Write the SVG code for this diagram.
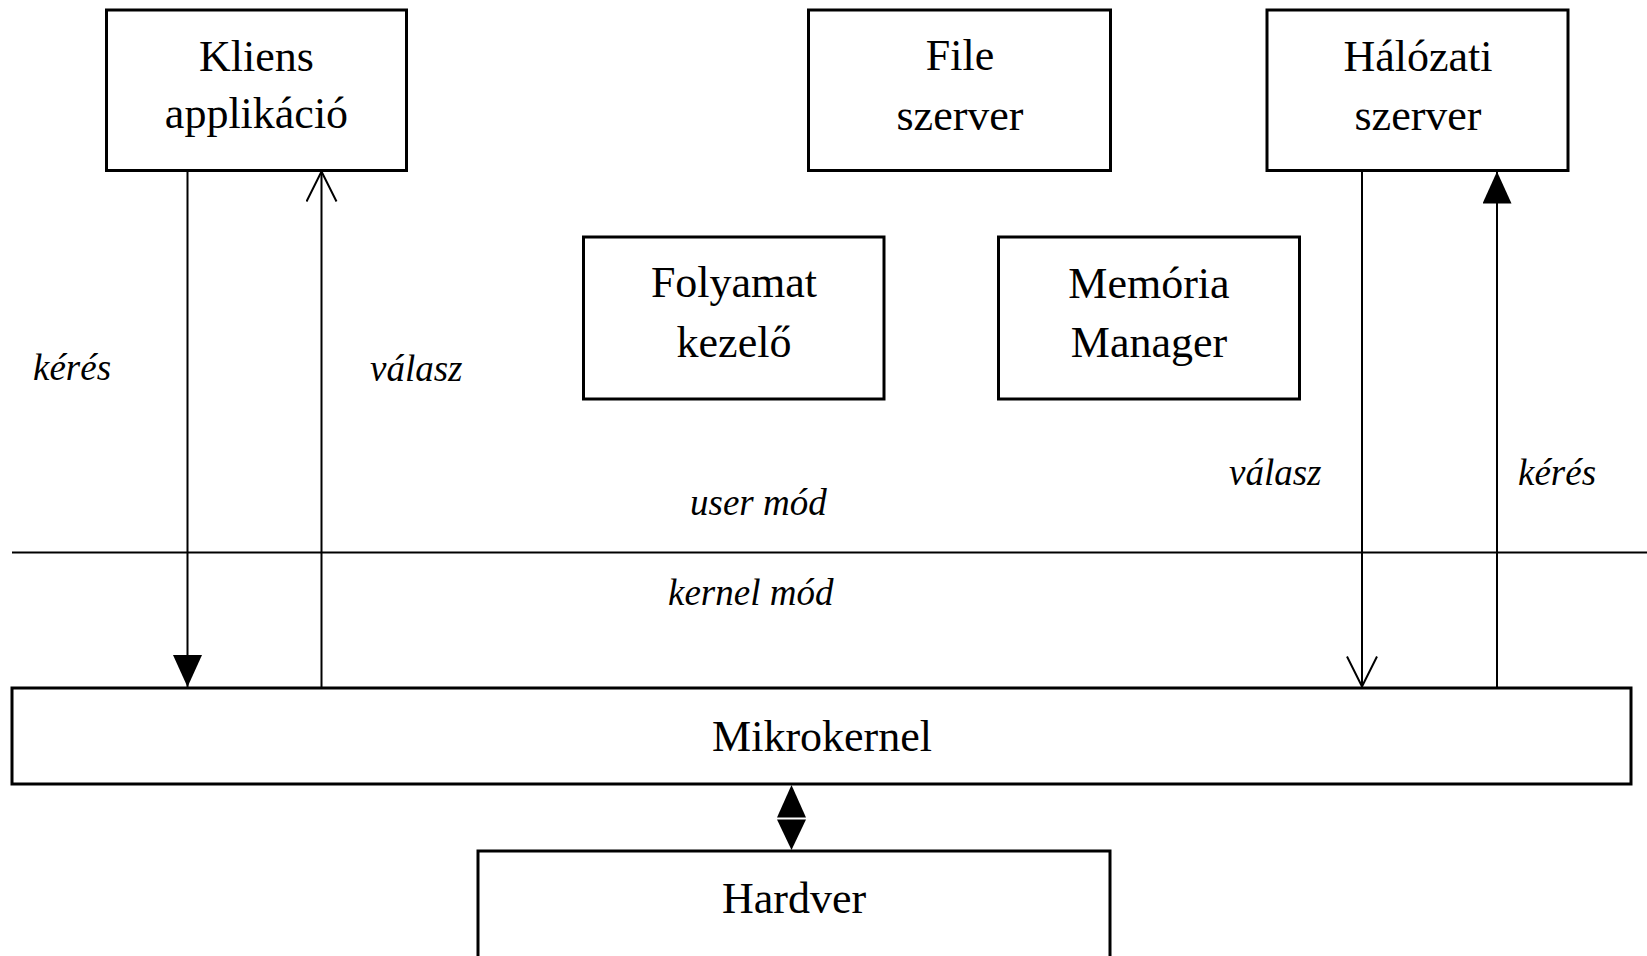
<svg xmlns="http://www.w3.org/2000/svg" width="1647" height="956" viewBox="0 0 1647 956">
<style>
.box{fill:#fff;stroke:#000;stroke-width:3}
.t{font-family:"Liberation Serif","Times New Roman",serif;font-size:44px;fill:#000;text-anchor:middle}
.lbl{font-family:"Liberation Serif","Times New Roman",serif;font-size:37px;font-style:italic;fill:#000}
.ln{stroke:#000;stroke-width:2;fill:none}
</style>
<defs>
<marker id="fill" markerUnits="userSpaceOnUse" markerWidth="34" markerHeight="30" refX="32" refY="14.5" orient="auto" viewBox="0 0 34 30">
<path d="M0,0 L32,14.5 L0,29 z" fill="#000"/>
</marker>
<marker id="open" markerUnits="userSpaceOnUse" markerWidth="34" markerHeight="34" refX="31" refY="16" orient="auto" viewBox="0 0 34 34">
<path d="M1,1 L31,16 L1,31" fill="none" stroke="#000" stroke-width="2"/>
</marker>
</defs>
<rect width="1647" height="956" fill="#fff"/>
<g id="kliens">
<rect class="box" x="106.5" y="10" width="300" height="160.5"/>
<text class="t" x="256.5" y="71">Kliens</text>
<text class="t" x="256.5" y="128">applikáció</text>
</g>
<g id="file">
<rect class="box" x="808.5" y="10" width="302" height="160.5"/>
<text class="t" x="960" y="70">File</text>
<text class="t" x="960" y="130">szerver</text>
</g>
<g id="halozati">
<rect class="box" x="1267" y="10" width="301" height="160.5"/>
<text class="t" x="1418" y="71">Hálózati</text>
<text class="t" x="1418" y="130">szerver</text>
</g>
<g id="folyamat">
<rect class="box" x="583.5" y="237" width="300.5" height="162"/>
<text class="t" x="734" y="297">Folyamat</text>
<text class="t" x="734" y="357">kezelő</text>
</g>
<g id="memoria">
<rect class="box" x="998.5" y="237" width="301" height="162"/>
<text class="t" x="1149" y="298">Memória</text>
<text class="t" x="1149" y="357">Manager</text>
</g>
<g id="mikrokernel">
<rect class="box" x="12" y="688" width="1619" height="96"/>
<text class="t" x="822" y="751">Mikrokernel</text>
</g>
<g id="hardver">
<rect class="box" x="478" y="851" width="632" height="120"/>
<text class="t" x="794" y="913">Hardver</text>
</g>
<g id="mode-line">
<line class="ln" x1="12" y1="552.5" x2="1647" y2="552.5" stroke-width="3"/>
<text class="lbl" x="690" y="515">user mód</text>
<text class="lbl" x="668" y="605">kernel mód</text>
</g>
<g id="connectors">
<line class="ln" x1="187.5" y1="170.5" x2="187.5" y2="687" marker-end="url(#fill)"/>
<line class="ln" x1="321.5" y1="688" x2="321.5" y2="171.5" marker-end="url(#open)"/>
<line class="ln" x1="1362" y1="170.5" x2="1362" y2="686.5" marker-end="url(#open)"/>
<line class="ln" x1="1497" y1="688" x2="1497" y2="171.5" marker-end="url(#fill)"/>
<polygon points="791.5,785 806,817.5 777,817.5" fill="#000"/>
<polygon points="777,819.5 806,819.5 791.5,850" fill="#000"/>
</g>
<g id="labels">
<text class="lbl" x="33" y="380">kérés</text>
<text class="lbl" x="370" y="381">válasz</text>
<text class="lbl" x="1229" y="485">válasz</text>
<text class="lbl" x="1518" y="485">kérés</text>
</g>
</svg>
